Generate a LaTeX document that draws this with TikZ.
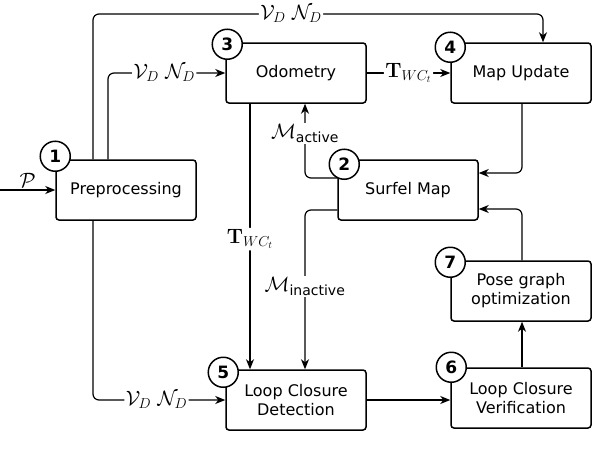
\documentclass[tikz,border=0pt]{standalone}
\usepackage{amsmath}
\usepackage[no-math]{fontspec}
\setmainfont{DejaVu Sans}
\usetikzlibrary{arrows.meta}

\tikzset{
  block/.style={draw, line width=1.5pt, rounded corners=3pt, fill=white,
    minimum width=140pt, minimum height=60pt, align=center, inner sep=2pt},
  numcirc/.style={draw, circle, line width=1.5pt, fill=white, minimum size=30pt,
    inner sep=0pt, font=\fontsize{17}{20}\selectfont\bfseries},
  flow/.style={-{Stealth[length=10pt,width=8pt,inset=3pt]}, line width=1.2pt, rounded corners=6pt},
  lbl/.style={fill=white, inner sep=1.5pt, font=\fontsize{20}{24}\selectfont},
}

\begin{document}
\begin{tikzpicture}[x=1pt, y=-1pt, font=\fontsize{16}{19}\selectfont]
    \useasboundingbox (0,0) rectangle (594,466);

    % blocks
    \node[block] (pre)  at (126,190) {Preprocessing};
    \node[block] (odo)  at (296,73)  {Odometry};
    \node[block] (upd)  at (521,73)  {Map Update};
    \node[block] (surf) at (408,190) {Surfel Map};
    \node[block] (lcd)  at (296,400) {Loop Closure\\Detection};
    \node[block] (lcv)  at (521,398) {Loop Closure\\Verification};
    \node[block] (pgo)  at (521,291) {Pose graph\\optimization};

    \coordinate (in)  at (0,190);
    \coordinate (top) at (0,14);

    % connectors
    \draw[flow] (in) -- node[above, lbl, fill=none] {$\mathcal{P}$} (pre.west);
    \draw[flow] ([xshift=-33pt]pre.north) -- ([xshift=-33pt]pre.north |- top)
        -- node[lbl, pos=0.44] {$\mathcal{V}_D\ \mathcal{N}_D$} ([xshift=22pt]upd.north |- top)
        -- ([xshift=22pt]upd.north);
    \draw[flow] ([xshift=-18pt]pre.north) |- node[lbl, pos=0.74] {$\mathcal{V}_D\ \mathcal{N}_D$} (odo.west);
    \draw[flow] ([xshift=-33pt]pre.south) |- node[lbl, pos=0.74] {$\mathcal{V}_D\ \mathcal{N}_D$} (lcd.west);
    \draw[flow] (odo) -- node[lbl] {$\mathbf{T}_{WC_t}$} (upd);
    \draw[flow] ([xshift=-46pt]odo.south) -- node[lbl, pos=0.51] {$\mathbf{T}_{WC_t}$} ([xshift=-46pt]lcd.north);
    \draw[flow] ([yshift=12pt]surf.west) -| node[lbl, pos=0.8] {$\mathcal{M}_{\text{active}}$} ([xshift=9pt]odo.south);
    \draw[flow] ([yshift=-20pt]surf.west) -| node[lbl, pos=0.74] {$\mathcal{M}_{\text{inactive}}$} ([xshift=9pt]lcd.north);
    \draw[flow] ([xshift=1pt]upd.south) |- ([yshift=17pt]surf.east);
    \draw[flow] ([xshift=1pt]pgo.north) |- ([yshift=-19pt]surf.east);
    \draw[flow] (lcd.east) -- (lcd.east -| lcv.west);
    \draw[flow] ([xshift=1pt]lcv.north) -- ([xshift=1pt]pgo.south);

    % step numbers
    \node[numcirc] (n1) at ([yshift=3pt]pre.north west)  {1};
    \node[numcirc] (n2) at ([shift={(7pt,-5pt)}]surf.north west) {2};
    \node[numcirc] (n3) at ([shift={(2pt,-2pt)}]odo.north west) {3};
    \node[numcirc] (n4) at ([yshift=-5pt]upd.north west) {4};
    \node[numcirc] (n5) at ([shift={(-2pt,-3pt)}]lcd.north west) {5};
    \node[numcirc] (n6) at ([xshift=1pt]lcv.north west) {6};
    \node[numcirc] (n7) at ([yshift=-2pt]pgo.north west) {7};
\end{tikzpicture}
\end{document}
